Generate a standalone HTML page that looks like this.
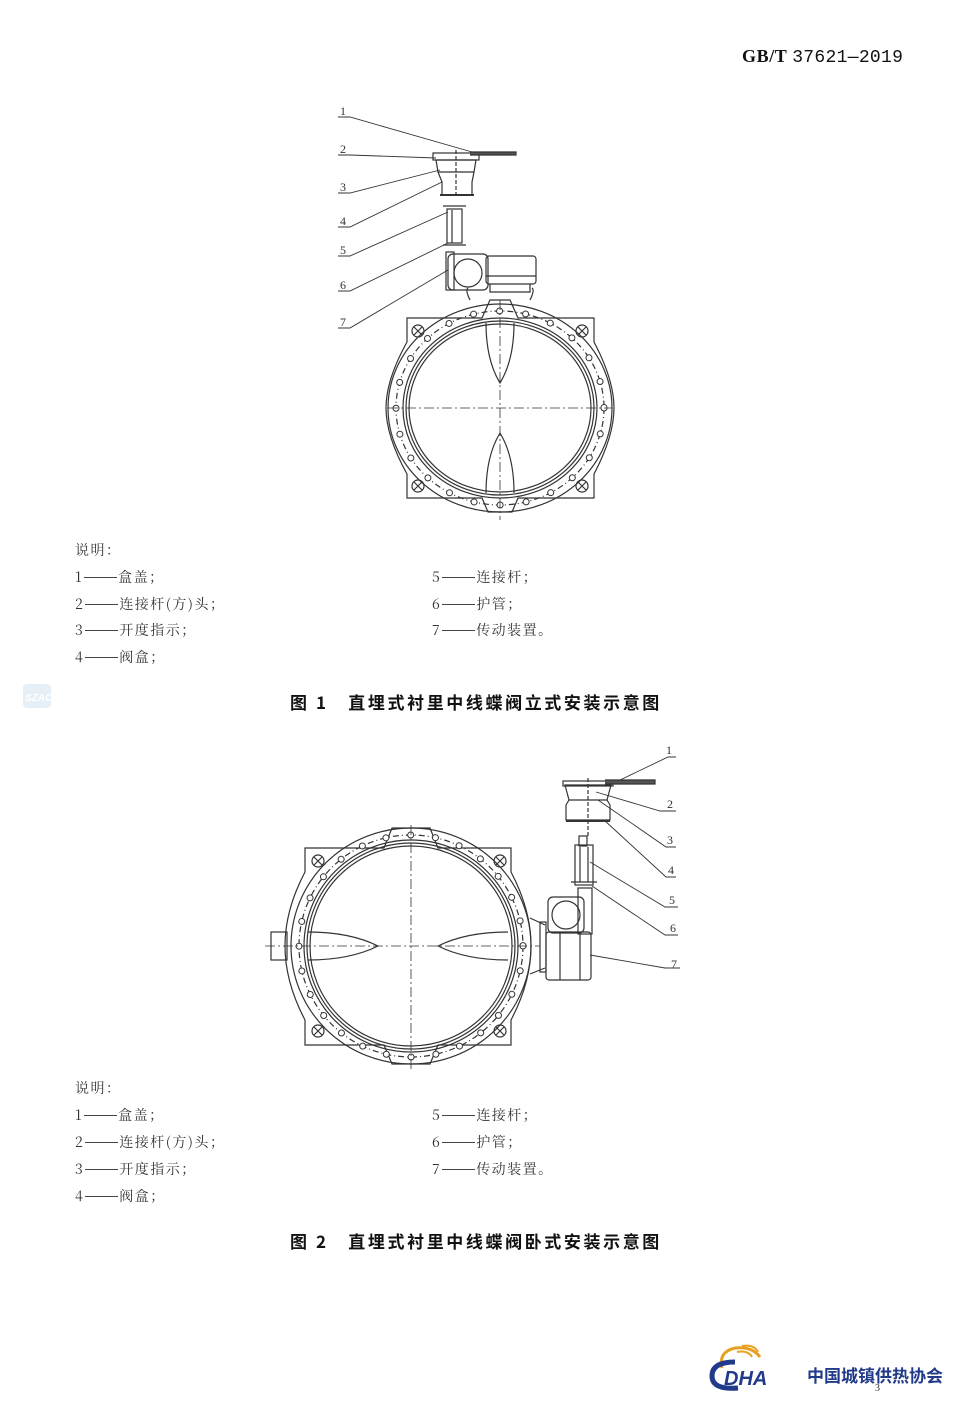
<!DOCTYPE html>
<html><head><meta charset="utf-8"><style>
body{margin:0;background:#fff;}
#p{position:relative;width:971px;height:1411px;overflow:hidden;background:#fff;font-family:"Noto Serif CJK SC","Liberation Serif",serif;color:#333;}
.t{position:absolute;font-size:14px;line-height:16px;white-space:nowrap;letter-spacing:1.5px;}
.t i{font-style:normal;letter-spacing:0;display:inline-block;width:33px;margin:0 1px 0 1px;border-top:1px solid #444;height:0;vertical-align:middle;position:relative;top:-1px}
.cap{position:absolute;font-family:"Noto Sans CJK SC","Liberation Sans",sans-serif;font-weight:bold;font-size:17px;letter-spacing:2.6px;white-space:nowrap;color:#111;}
svg{position:absolute;left:0;top:0;}
</style></head><body><div id="p">
<div class="t" style="left:742px;top:48px;font-size:18px;letter-spacing:0.6px;font-weight:bold;font-family:'Liberation Serif',serif;color:#111">GB/T <span style="font-weight:normal;font-family:'Liberation Mono',monospace;font-size:18px;letter-spacing:0.3px">37621—2019</span></div>

<svg width="971" height="1411" viewBox="0 0 971 1411" fill="none" stroke="#333" stroke-width="1.2">
<g>
<path d="M407 318 H482 L490 300 H510 L518 318 H594 V342 Q614 380 614 408 Q614 436 594 474 V498 H518 L512 512 H488 L482 498 H407 V474 Q386 436 386 408 Q386 380 407 342 Z"/>
<ellipse cx="500" cy="408" rx="112" ry="104"/>
<ellipse cx="500" cy="408" rx="97" ry="90"/>
<ellipse cx="500" cy="408" rx="94" ry="87"/>
<ellipse cx="500" cy="408" rx="91" ry="84"/>
<ellipse cx="500" cy="408" rx="104" ry="97" stroke-dasharray="6 3 1 3"/>
<ellipse cx="500" cy="408" rx="104" ry="97" pathLength="24" stroke-dasharray="0 1" stroke-linecap="round" stroke-width="7" stroke="#333"/>
<ellipse cx="500" cy="408" rx="104" ry="97" pathLength="24" stroke-dasharray="0 1" stroke-linecap="round" stroke-width="5" stroke="#fff"/>
<circle cx="418" cy="331" r="6"/><circle cx="582" cy="331" r="6"/><circle cx="418" cy="486" r="6"/><circle cx="582" cy="486" r="6"/>
<path d="M414 327 L422 335 M414 335 L422 327 M578 327 L586 335 M578 335 L586 327 M414 482 L422 490 M414 490 L422 482 M578 482 L586 490 M578 490 L586 482"/>
<path d="M486 323 Q486 360 500 383 Q514 360 514 323"/>
<path d="M486 493 Q486 456 500 433 Q514 456 514 493"/>
<path d="M388 408 H612 M500 300 V520" stroke-dasharray="10 3 2 3" stroke-width="0.8"/>
<path d="M470 300 Q465 290 468 288 M530 300 Q535 290 532 288"/>
<rect x="448" y="254" width="40" height="36" rx="5"/>
<circle cx="468" cy="273" r="14"/>
<rect x="486" y="256" width="50" height="28" rx="3"/>
<path d="M486 276 H536 M490 284 V292 H530 V284"/>
<rect x="446" y="252" width="8" height="38"/>
<rect x="447" y="209" width="15" height="34"/>
<path d="M443 206 H466 M443 245 H466 M452 210 V243"/>
<path d="M436 160 H476 L474 172 H438 Z"/>
<path d="M438 172 L442 182 V195 H472 V182 L474 172"/>
<path d="M440 195 H474" stroke-width="2"/>
<rect x="433" y="153" width="46" height="7"/>
<path d="M470 152 H516 V155 H470" fill="#555"/>
<path d="M456 150 V198" stroke-dasharray="4 2"/>
<g stroke-width="0.9">
<path d="M338 117 H350 L472 152"/>
<path d="M338 155 H350 L436 158"/>
<path d="M338 193 H350 L440 170"/>
<path d="M338 227 H350 L442 182"/>
<path d="M338 256 H350 L448 212"/>
<path d="M338 291 H350 L448 243"/>
<path d="M338 328 H350 L448 270"/>
</g>
</g>
<g font-family="Liberation Serif,serif" font-size="12" fill="#333" stroke="none">
<text x="340" y="115">1</text><text x="340" y="153">2</text><text x="340" y="191">3</text><text x="340" y="225">4</text><text x="340" y="254">5</text><text x="340" y="289">6</text><text x="340" y="326">7</text>
</g>

<g>
<path d="M305 848 H384 L392 828 H430 L438 848 H511 V872 Q531 910 531 946 Q531 982 511 1020 V1045 H438 L430 1064 H392 L384 1045 H305 V1020 Q285 982 285 946 Q285 910 305 872 Z"/>
<ellipse cx="411" cy="946" rx="120" ry="118"/>
<ellipse cx="411" cy="946" rx="107" ry="106"/>
<ellipse cx="411" cy="946" rx="104" ry="103"/>
<ellipse cx="411" cy="946" rx="101" ry="100"/>
<ellipse cx="411" cy="946" rx="112" ry="111" stroke-dasharray="6 3 1 3"/>
<ellipse cx="411" cy="946" rx="112" ry="111" pathLength="28" stroke-dasharray="0 1" stroke-linecap="round" stroke-width="7"/>
<ellipse cx="411" cy="946" rx="112" ry="111" pathLength="28" stroke-dasharray="0 1" stroke-linecap="round" stroke-width="5" stroke="#fff"/>
<circle cx="318" cy="861" r="6"/><circle cx="500" cy="861" r="6"/><circle cx="318" cy="1031" r="6"/><circle cx="500" cy="1031" r="6"/>
<path d="M314 857 L322 865 M314 865 L322 857 M496 857 L504 865 M496 865 L504 857 M314 1027 L322 1035 M314 1035 L322 1027 M496 1027 L504 1035 M496 1035 L504 1027"/>
<path d="M308 932 Q350 932 378 946 Q350 960 308 960"/>
<path d="M508 932 Q466 932 438 946 Q466 960 508 960"/>
<path d="M265 946 H540 M411 825 V1070" stroke-dasharray="10 3 2 3" stroke-width="0.8"/>
<rect x="271" y="932" width="16" height="28"/>
<path d="M530 918 L545 925 M530 974 L545 968"/>
<rect x="540" y="922" width="6" height="50"/>
<rect x="546" y="932" width="45" height="48" rx="3"/>
<path d="M560 932 V980 M580 932 V980"/>
<rect x="548" y="897" width="36" height="36" rx="5"/>
<circle cx="566" cy="915" r="14"/>
<rect x="578" y="888" width="14" height="46"/>
<rect x="575" y="845" width="18" height="40"/>
<path d="M571 882 H597 M580 847 V882 M588 847 V882"/>
<rect x="579" y="836" width="8" height="10"/>
<path d="M565 785 H611 L607 800 H569 Z"/>
<path d="M569 800 L566 805 V820 H610 V805 L607 800"/>
<path d="M566 821 H610" stroke-width="2"/>
<rect x="563" y="781" width="50" height="5"/>
<path d="M605 780 H655 V784 H605" fill="#555"/>
<path d="M588 778 V836" stroke-dasharray="4 2"/>
<g stroke-width="0.9">
<path d="M620 780 L668 757 H676"/>
<path d="M596 792 L660 811 H676"/>
<path d="M598 800 L666 847 H676"/>
<path d="M604 820 L666 877 H676"/>
<path d="M590 862 L665 907 H678"/>
<path d="M592 886 L665 935 H678"/>
<path d="M590 955 L665 968 H680"/>
</g>
</g>
<g font-family="Liberation Serif,serif" font-size="12" fill="#333" stroke="none">
<text x="666" y="754">1</text><text x="667" y="808">2</text><text x="667" y="844">3</text><text x="668" y="874">4</text><text x="669" y="904">5</text><text x="670" y="932">6</text><text x="671" y="968">7</text>
</g>

<rect x="23" y="684" width="28" height="24" rx="4" fill="#e6eef6" stroke="none"/>
<text x="25" y="701" font-size="10" font-style="italic" fill="#fff" stroke="none" font-family="Liberation Sans,sans-serif" font-weight="bold">SZAC</text>

<path d="M722 1368 Q718 1352 735 1348 Q752 1346 760 1357" stroke="#e8a020" stroke-width="3"/>
<path d="M737 1352 Q748 1350 752 1357 M742 1346 Q754 1344 758 1352" stroke="#e8a020" stroke-width="2"/>
<path d="M735 1362 Q712 1362 712 1376 Q712 1390 738 1388" stroke="#223a8a" stroke-width="5"/>
<text x="724" y="1385" font-family="Liberation Sans,sans-serif" font-weight="bold" font-style="italic" font-size="20" fill="#223a8a" stroke="none">DHA</text>
<text x="807" y="1382" font-family="Liberation Sans,Noto Sans CJK SC,sans-serif" font-weight="bold" font-size="17" fill="#223a8a" stroke="none">中国城镇供热协会</text>
<text x="875" y="1391" font-size="10" fill="#333" stroke="none" font-family="Liberation Serif,serif">3</text>
</svg>

<div class="t" style="left:75px;top:542px">说明：</div>
<div class="t" style="left:75px;top:569px">1<i></i>盒盖；</div>
<div class="t" style="left:75px;top:596px">2<i></i>连接杆(方)头；</div>
<div class="t" style="left:75px;top:622px">3<i></i>开度指示；</div>
<div class="t" style="left:75px;top:649px">4<i></i>阀盒；</div>
<div class="t" style="left:432px;top:569px">5<i></i>连接杆；</div>
<div class="t" style="left:432px;top:596px">6<i></i>护管；</div>
<div class="t" style="left:432px;top:622px">7<i></i>传动装置。</div>
<div class="cap" style="left:290px;top:689px">图 1　直埋式衬里中线蝶阀立式安装示意图</div>

<div class="t" style="left:75px;top:1080px">说明：</div>
<div class="t" style="left:75px;top:1107px">1<i></i>盒盖；</div>
<div class="t" style="left:75px;top:1134px">2<i></i>连接杆(方)头；</div>
<div class="t" style="left:75px;top:1161px">3<i></i>开度指示；</div>
<div class="t" style="left:75px;top:1188px">4<i></i>阀盒；</div>
<div class="t" style="left:432px;top:1107px">5<i></i>连接杆；</div>
<div class="t" style="left:432px;top:1134px">6<i></i>护管；</div>
<div class="t" style="left:432px;top:1161px">7<i></i>传动装置。</div>
<div class="cap" style="left:290px;top:1228px">图 2　直埋式衬里中线蝶阀卧式安装示意图</div>
</div></body></html>
